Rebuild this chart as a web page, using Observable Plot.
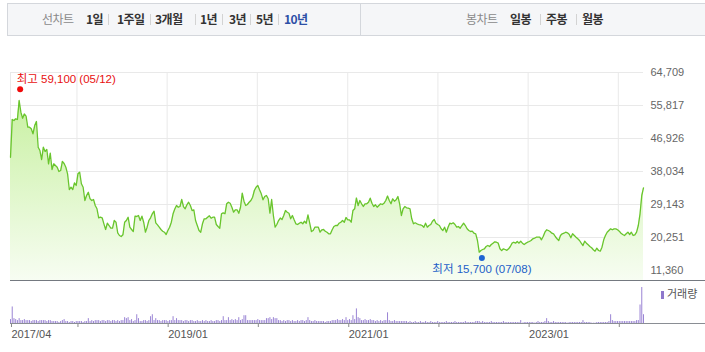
<!DOCTYPE html>
<html><head><meta charset="utf-8">
<script src="https://cdn.jsdelivr.net/npm/d3@7"></script>
<script src="https://cdn.jsdelivr.net/npm/@observablehq/plot@0.6"></script>
<style>
body{margin:0;background:#fff;}
#wrap{position:relative;width:705px;height:352px;overflow:hidden;font-family:"Liberation Sans","Noto Sans CJK KR",sans-serif;}
#bar{position:absolute;left:7px;top:3px;width:710px;height:31px;border:1px solid #d4d7dc;background:#f5f6f8;}
#divider{position:absolute;left:360px;top:3px;width:1px;height:33px;background:#d4d7dc;}
.it{position:absolute;top:11px;font-size:12px;line-height:16px;font-weight:bold;color:#333;letter-spacing:-0.6px;font-family:"Noto Sans CJK KR","Liberation Sans",sans-serif;white-space:nowrap;}
.lab{font-weight:normal;color:#8a8a8a;}
.on{color:#2d4fa6;}
.sep{position:absolute;top:14px;width:1px;height:11px;background:#d3d3d3;}
.hl{position:absolute;height:1px;}
#legend{position:absolute;left:661px;top:286px;font-size:11px;color:#555;white-space:nowrap;font-family:"Noto Sans CJK KR",sans-serif;line-height:14px;}
#legend i{display:inline-block;width:3px;height:8px;background:#8f78cc;margin-right:3px;vertical-align:-1px;}
svg{position:absolute;left:0;top:0;}
</style></head>
<body><div id="wrap">
<div id="bar"></div><div id="divider"></div>
<span class="it lab" style="left:42px">선차트</span>
<span class="it" style="left:86px">1일</span><span class="sep" style="left:108px"></span>
<span class="it" style="left:117px">1주일</span><span class="sep" style="left:150px"></span>
<span class="it" style="left:155px">3개월</span><span class="sep" style="left:195px"></span>
<span class="it" style="left:200px">1년</span><span class="sep" style="left:222px"></span>
<span class="it" style="left:229px">3년</span><span class="sep" style="left:250px"></span>
<span class="it" style="left:256px">5년</span><span class="sep" style="left:278px"></span>
<span class="it on" style="left:284px">10년</span>
<span class="it lab" style="left:466px">봉차트</span>
<span class="it" style="left:510px">일봉</span><span class="sep" style="left:540px"></span>
<span class="it" style="left:546px">주봉</span><span class="sep" style="left:576px"></span>
<span class="it" style="left:582px">월봉</span>
<div id="charts"></div>
<div class="hl" style="left:10px;top:280px;width:695px;background:#747980"></div>
<div class="hl" style="left:10px;top:323px;width:695px;background:#8a8e94"></div>
<div id="legend"><i></i>거래량</div>
</div>
<script>
// weekly closes (원), one value per week starting from the first listed week
const weekStart = "2017-04-07";
const prices = [
41880,52040,51770,52230,52040,57160,54010,52390,53520,52930,
49970,49970,49530,48190,50420,51500,44580,43690,41260,44580,
43420,43960,40110,42960,38570,40110,39650,39190,38030,38300,
40730,40190,39190,37410,33180,33800,33180,34990,34260,37410,
37840,34720,33800,30220,31570,32450,30680,30220,30490,28870,
27980,25560,25720,25560,23940,22410,24100,23480,22760,22760,
24830,24370,21520,20790,20520,20980,24370,24830,25720,23030,
22410,21870,25990,25910,26180,24830,25990,24370,21680,23030,
24830,25560,26640,27340,24210,23670,23030,22410,21950,21680,
21060,22140,23030,24370,26640,27930,28870,28410,28600,30490,
28600,27980,29060,29760,28870,27520,27710,24830,23480,22140,
21680,23940,25290,25290,25720,26100,25450,25720,25720,23750,
23210,22760,26640,26900,26640,29330,29760,29490,28410,27070,
27710,27710,26800,28410,32190,30030,28870,29140,29760,30220,
31110,32910,33800,34260,33100,32020,30410,31300,31570,30680,
26800,30490,26180,23030,23750,24830,25500,25100,26180,27520,
27070,26800,25290,26180,25020,23940,23750,24100,24370,23940,
24640,24100,26370,24100,21870,22140,23030,23030,23030,21680,
22330,22410,21950,21680,21250,21250,22330,23210,23480,23480,
24100,24370,24830,24370,25640,25020,25020,24370,27520,27980,
30890,28870,30220,29330,28600,29330,29330,29760,30840,29490,
28600,29060,28410,28870,29330,29140,29490,30220,31430,30220,
29330,30680,30030,30410,31300,29330,26180,27980,28600,28250,
28140,27980,25290,23940,24210,23940,23750,23670,23480,23030,
24100,23030,23480,23750,24640,25100,24100,23750,23480,22590,
22140,23030,21680,23030,24100,23940,24210,23750,23030,23210,
22760,23480,24100,23480,22590,22140,21870,21950,21410,21250,
19440,16290,16750,17020,17210,17830,18100,17830,18360,18720,
19090,18980,18720,17210,16700,17210,17020,16800,17210,17830,
18720,18980,18720,19170,18720,19250,18720,18360,18720,18980,
19170,19440,19900,20060,20330,20330,20330,19630,20520,21680,
22330,22140,21870,21410,21250,20520,19900,19440,20790,21250,
21410,21680,21520,21110,20170,21250,20790,20330,19900,19440,
18720,18100,19250,18720,18280,17830,17480,16940,16560,17370,
16750,16560,17640,19630,20790,21680,22140,22590,22330,22590,
22590,22330,21950,21410,21060,20790,21250,21680,21060,21680,
20790,20980,21680,23480,26640,31570,33640
];
// weekly volume (만주)
const volumes = [
24,102,30,24,18,30,18,18,24,18, 18,18,12,18,18,18,12,18,18,18,
18,12,18,18,12,12,12,12,6,12, 18,24,12,12,6,12,12,6,12,12,
12,12,6,12,12,30,12,18,12,18, 18,18,12,18,18,12,18,18,12,18,
18,12,18,12,18,18,36,30,36,18, 24,12,18,54,30,12,12,18,18,12,
18,42,54,18,30,18,18,12,18,18, 18,12,18,18,42,18,30,18,18,18,
12,18,18,12,18,18,12,12,18,12, 12,18,12,18,12,12,18,12,12,18,
18,12,18,42,18,18,36,18,24,18, 24,18,36,18,24,48,48,18,18,18,
18,18,18,24,18,18,18,18,30,30, 36,24,36,30,30,18,18,12,18,12,
18,18,12,18,12,12,18,12,18,18, 12,18,36,18,12,12,18,12,12,12,
12,12,6,12,12,12,18,18,18,24, 18,18,24,18,36,18,24,18,48,24,
90,36,30,18,18,24,18,18,24,18, 18,12,18,12,18,12,18,18,66,18,
12,12,18,12,12,12,12,12,12,12, 6,12,6,6,12,6,6,12,6,6,
12,6,6,12,6,6,6,12,6,6, 6,6,12,6,6,6,6,12,6,6,
6,6,6,12,6,6,6,6,6,12, 12,12,6,12,6,6,6,6,12,6,
6,6,6,6,6,12,6,6,6,6, 6,6,6,6,6,18,2,6,6,6,
6,6,6,2,6,12,6,6,6,12, 30,12,6,6,12,6,6,6,6,6,
6,6,2,6,6,6,6,6,6,6, 6,18,6,6,6,6,2,2,2,6,
6,6,6,6,6,6,12,54,18,12, 12,12,12,12,12,12,12,12,12,12,
12,12,18,18,114,222,54
];
const yTicks = [11360, 20251, 29143, 38034, 46926, 55817, 64709];
const xTickDates = ["2017-04-07","2018-01-01","2019-01-01","2020-01-01","2021-01-01","2022-01-01","2023-01-01","2024-01-01"];
const xTickLabels = ["2017/04","","2019/01","","2021/01","","2023/01",""];
const extremeNames = ["최고", "최저"];
const extremeDates = ["2017-05-12", "2022-07-08"];
const extremeValues = [59100, 15700];

const t0 = new Date(weekStart + "T00:00:00Z");
const data = prices.map((p, i) => ({date: d3.utcDay.offset(t0, 7 * i), price: p, volume: volumes[i]}));
const xDomain = [data[0].date, data[data.length - 1].date];
const yMin = 8666, yMax = 64709;
const ticksX = xTickDates.map(s => new Date(s + "T00:00:00Z"));
const labelOf = new Map(ticksX.map((d, i) => [+d, xTickLabels[i]]));
const fmt = d3.format(",");
const extremes = extremeNames.map((n, i) => {
  const d = new Date(extremeDates[i] + "T00:00:00Z");
  return {date: d, value: extremeValues[i],
    label: `${n} ${fmt(extremeValues[i])} (${extremeDates[i].slice(5, 7)}/${extremeDates[i].slice(8, 10)})`};
});
const hi = [extremes[0]], lo = [extremes[1]];
const font = '"Liberation Sans","Noto Sans CJK KR",sans-serif';

const price = Plot.plot({
  width: 705, height: 281,
  marginTop: 72, marginBottom: 1, marginLeft: 10, marginRight: 62,
  style: {fontFamily: font, fontSize: "11px", color: "#666", background: "transparent", overflow: "visible"},
  x: {type: "utc", domain: xDomain, axis: null},
  y: {domain: [yMin, yMax]},
  marks: [
    Plot.gridY(yTicks, {stroke: "#e9e9e9", strokeOpacity: 1}),
    Plot.gridX(ticksX, {stroke: "#e9e9e9", strokeOpacity: 1}),
    Plot.areaY(data, {x: "date", y1: yMin, y2: "price", fill: "url(#areaGrad)", curve: "linear"}),
    Plot.lineY(data, {x: "date", y: "price", stroke: "#69c52d", strokeWidth: 1.3}),
    Plot.axisY({anchor: "right", ticks: yTicks, tickSize: 0, tickPadding: 7, tickFormat: fmt, textAnchor: "start", fill: "#666", fontSize: 11}),
    Plot.dot(hi, {x: "date", y: "value", r: 3, fill: "#f00a0a", dx: 1, dy: -4}),
    Plot.text(hi, {x: "date", y: "value", text: "label", fill: "#e81010", textAnchor: "start", dx: -2.5, dy: -14, fontSize: 11.5}),
    Plot.dot(lo, {x: "date", y: "value", r: 3, fill: "#1f64d2", dx: -2.5, dy: 3.5}),
    Plot.text(lo, {x: "date", y: "value", text: "label", fill: "#2360c8", textAnchor: "middle", dx: -2.5, dy: 14.5, fontSize: 11.5})
  ]
});
const ns = "http://www.w3.org/2000/svg";
const defs = document.createElementNS(ns, "defs");
defs.innerHTML = '<linearGradient id="areaGrad" gradientUnits="userSpaceOnUse" x1="0" y1="80" x2="0" y2="280"><stop offset="0" stop-color="#c3ef99"/><stop offset="1" stop-color="#f7fdf2"/></linearGradient>';
price.prepend(defs);

const vol = Plot.plot({
  width: 705, height: 352,
  marginTop: 281, marginBottom: 29, marginLeft: 10, marginRight: 62,
  style: {fontFamily: font, fontSize: "11px", color: "#666", background: "transparent", overflow: "visible"},
  x: {type: "utc", domain: xDomain},
  y: {domain: [0, 259], axis: null},
  marks: [
    Plot.ruleX(data, {x: "date", y1: 0, y2: "volume", stroke: "#9a84d4", strokeWidth: 1}),
    Plot.axisX({ticks: ticksX, tickSize: 4, tickPadding: 3, tickFormat: d => labelOf.get(+d) || "", textAnchor: "start", dx: 1, stroke: "#8a8a8a", fill: "#555", fontSize: 11})
  ]
});
const charts = document.getElementById("charts");
charts.appendChild(price);
charts.appendChild(vol);
</script>
</body></html>
